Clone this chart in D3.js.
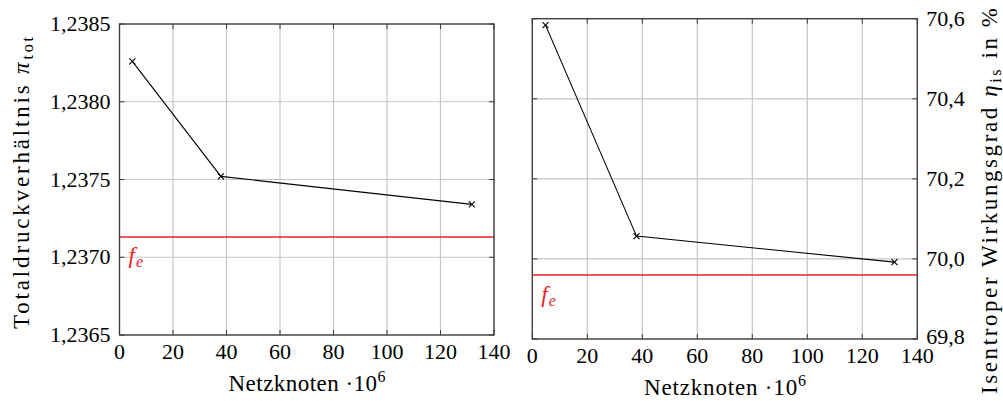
<!DOCTYPE html>
<html>
<head>
<meta charset="utf-8">
<script src="https://cdn.jsdelivr.net/npm/d3@7"></script>
<style>
  html, body { margin: 0; padding: 0; background: #fff; }
  svg { display: block; font-family: "Liberation Serif", "DejaVu Serif", serif; }
</style>
</head>
<body>
<svg id="chart" width="1003" height="401"></svg>
<script>
// Mesh study: grid nodes (in millions) vs. total pressure ratio and isentropic efficiency
const meshNodes = [4.8, 37.9, 131.7];
const pressureRatio = [1.23826, 1.23752, 1.23734];
const efficiency = [70.584, 70.057, 69.992];
const pressureRatioFe = 1.23713;   // extrapolated value f_e
const efficiencyFe = 69.960;       // extrapolated value f_e
const xTicks = [0, 20, 40, 60, 80, 100, 120, 140];
const pressureTicks = [1.2365, 1.2370, 1.2375, 1.2380, 1.2385];
const efficiencyTicks = [69.8, 70.0, 70.2, 70.4, 70.6];

const de = d3.formatLocale({decimal: ",", thousands: ".", grouping: [3], currency: ["", " €"]});
const fmt4 = de.format(".4f");
const fmt1 = de.format(".1f");

const svg = d3.select("#chart");
const FS = 22;
const gridColor = "#c6c6c6";
const axisColor = "#3a3a3a";

function panel(opts) {
  const {left, right, top, bottom, xDomain, yDomain, yTicks, yFmt, ys, fe, yAxisRight, feOffset} = opts;
  const x = d3.scaleLinear().domain(xDomain).range([left, right]);
  const y = d3.scaleLinear().domain(yDomain).range([bottom, top]);
  const g = svg.append("g");

  // grid
  g.append("g").selectAll("line").data(xTicks).join("line")
    .attr("x1", d => x(d)).attr("x2", d => x(d))
    .attr("y1", top).attr("y2", bottom)
    .attr("stroke", gridColor).attr("stroke-width", 1.2);
  g.append("g").selectAll("line").data(yTicks).join("line")
    .attr("y1", d => y(d)).attr("y2", d => y(d))
    .attr("x1", left).attr("x2", right)
    .attr("stroke", gridColor).attr("stroke-width", 1.2);

  // inward tick marks on all four sides
  const tl = 5;
  const tk = g.append("g").attr("stroke", axisColor).attr("stroke-width", 1);
  xTicks.forEach(d => {
    tk.append("line").attr("x1", x(d)).attr("x2", x(d)).attr("y1", bottom).attr("y2", bottom - tl);
    tk.append("line").attr("x1", x(d)).attr("x2", x(d)).attr("y1", top).attr("y2", top + tl);
  });
  yTicks.forEach(d => {
    tk.append("line").attr("y1", y(d)).attr("y2", y(d)).attr("x1", left).attr("x2", left + tl);
    tk.append("line").attr("y1", y(d)).attr("y2", y(d)).attr("x1", right).attr("x2", right - tl);
  });

  // reference line f_e
  g.append("line")
    .attr("x1", left).attr("x2", right)
    .attr("y1", y(fe)).attr("y2", y(fe))
    .attr("stroke", "#ee1c25").attr("stroke-width", 1.6);
  const lab = g.append("text")
    .attr("x", left + 9).attr("y", y(fe) + feOffset)
    .attr("fill", "#ee1c25").attr("font-size", 23).attr("font-style", "italic");
  lab.append("tspan").text("f");
  lab.append("tspan").attr("font-size", 16).attr("dy", 4).attr("dx", 1).text("e");

  // data line
  const pts = meshNodes.map((m, i) => [m, ys[i]]);
  g.append("path").datum(pts)
    .attr("fill", "none").attr("stroke", "#000").attr("stroke-width", 1.1)
    .attr("d", d3.line().x(d => x(d[0])).y(d => y(d[1])));
  const s = 3;
  g.append("g").selectAll("path").data(pts).join("path")
    .attr("stroke", "#000").attr("stroke-width", 1.1).attr("fill", "none")
    .attr("d", d => {
      const px = x(d[0]), py = y(d[1]);
      return `M${px - s},${py - s}L${px + s},${py + s}M${px - s},${py + s}L${px + s},${py - s}`;
    });

  // frame
  g.append("rect").attr("x", left).attr("y", top)
    .attr("width", right - left).attr("height", bottom - top)
    .attr("fill", "none").attr("stroke", axisColor).attr("stroke-width", 1.3);

  // tick labels
  g.append("g").selectAll("text").data(xTicks).join("text")
    .attr("x", d => x(d)).attr("y", bottom + 24)
    .attr("text-anchor", "middle").attr("font-size", FS)
    .text(d => d);
  g.append("g").selectAll("text").data(yTicks).join("text")
    .attr("x", yAxisRight ? right + 9 : left - 9)
    .attr("y", d => y(d) + (yAxisRight && d === yDomain[0] ? 5 : 7))
    .attr("text-anchor", yAxisRight ? "start" : "end").attr("font-size", FS)
    .text(d => yFmt(d));

  return {x, y};
}

const p1 = panel({
  left: 119.5, right: 494, top: 24, bottom: 335,
  xDomain: [0, 140], yDomain: [1.2365, 1.2385],
  yTicks: pressureTicks, yFmt: fmt4, ys: pressureRatio, fe: pressureRatioFe,
  yAxisRight: false, feOffset: 26
});
const p2 = panel({
  left: 532.3, right: 917.3, top: 18.7, bottom: 339,
  xDomain: [0, 140], yDomain: [69.8, 70.6],
  yTicks: efficiencyTicks, yFmt: fmt1, ys: efficiency, fe: efficiencyFe,
  yAxisRight: true, feOffset: 27
});

// axis titles
function xTitle(cx, cy, len) {
  const t = svg.append("text").attr("x", cx).attr("y", cy)
    .attr("text-anchor", "middle").attr("font-size", 23)
    .attr("textLength", len).attr("lengthAdjust", "spacing");
  t.append("tspan").text("Netzknoten \u00B710");
  t.append("tspan").attr("font-size", 16).attr("dy", -9).text("6");
}
xTitle(307, 391, 157);
xTitle(725, 395, 162);

const yl = svg.append("text")
  .attr("transform", "translate(29,183) rotate(-90)")
  .attr("text-anchor", "middle").attr("font-size", 23)
  .attr("textLength", 292).attr("lengthAdjust", "spacing");
yl.append("tspan").text("Totaldruckverhältnis ");
yl.append("tspan").attr("font-style", "italic").text("\u03C0");
yl.append("tspan").attr("font-size", 16).attr("dy", 4).text("tot");

const yr = svg.append("text")
  .attr("transform", "translate(997,201) rotate(-90)")
  .attr("text-anchor", "middle").attr("font-size", 23)
  .attr("textLength", 386).attr("lengthAdjust", "spacing");
yr.append("tspan").text("Isentroper Wirkungsgrad ");
yr.append("tspan").attr("font-style", "italic").text("\u03B7");
yr.append("tspan").attr("font-size", 16).attr("dy", 4).text("is");
yr.append("tspan").attr("dy", -4).text(" in %");
</script>
</body>
</html>
